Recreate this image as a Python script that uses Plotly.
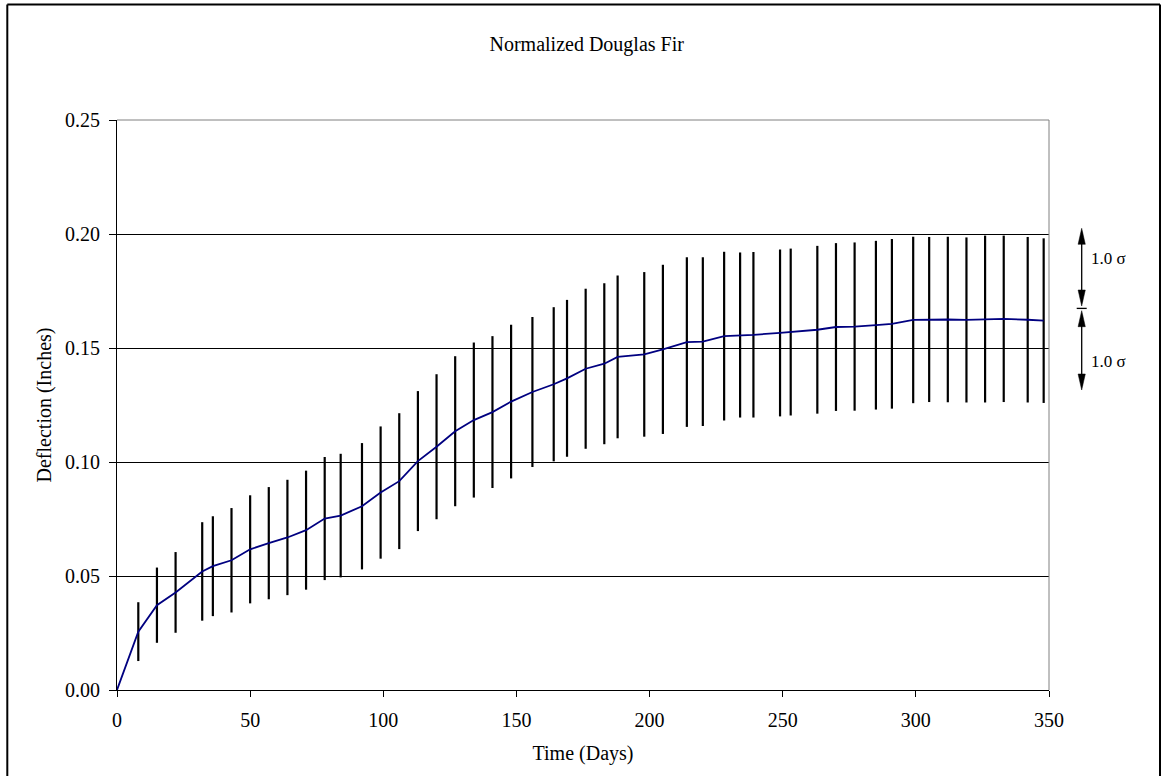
import plotly.graph_objects as go

# ---- data ----
start_day = 0
start_val = 0.0
days = [8, 15, 22, 32, 36, 43, 50, 57, 64, 71, 78, 84, 92, 99, 106, 113, 120, 127,
        134, 141, 148, 156, 164, 169, 176, 183, 188, 198, 205, 214, 220, 228, 234,
        239, 249, 253, 263, 270, 277, 285, 291, 299, 305, 312, 319, 326, 333, 342, 348]
mean_defl = [0.0256, 0.0372, 0.0428, 0.0520, 0.0543, 0.0569, 0.0617, 0.0644, 0.0669,
             0.0701, 0.0752, 0.0765, 0.0806, 0.0866, 0.0916, 0.1004, 0.1067, 0.1135,
             0.1184, 0.1219, 0.1265, 0.1307, 0.1341, 0.1367, 0.1409, 0.1431, 0.1461,
             0.1472, 0.1494, 0.1526, 0.1528, 0.1552, 0.1557, 0.1558, 0.1566, 0.1570,
             0.1580, 0.1592, 0.1594, 0.1600, 0.1606, 0.1623, 0.1625, 0.1625, 0.1623,
             0.1627, 0.1628, 0.1624, 0.1620]
sd_defl = [0.0129, 0.0165, 0.0177, 0.0216, 0.0219, 0.0229, 0.0237, 0.0246, 0.0253,
           0.0261, 0.0270, 0.0271, 0.0277, 0.0290, 0.0298, 0.0307, 0.0318, 0.0329,
           0.0340, 0.0333, 0.0337, 0.0329, 0.0338, 0.0344, 0.0351, 0.0353, 0.0357,
           0.0361, 0.0371, 0.0372, 0.0370, 0.0370, 0.0362, 0.0363, 0.0366, 0.0366,
           0.0368, 0.0368, 0.0369, 0.0370, 0.0372, 0.0365, 0.0362, 0.0363, 0.0362,
           0.0366, 0.0365, 0.0363, 0.0361]
x_ticks = [0, 50, 100, 150, 200, 250, 300, 350]
y_ticks = [0.00, 0.05, 0.10, 0.15, 0.20, 0.25]
sigma_label = "1.0 σ"

# ---- layout geometry ----
W, H = 1166, 776
ML, MR, MT, MB = 117, 117, 120, 86
PW, PH = W - ML - MR, H - MT - MB
FONT = "Liberation Serif, Times New Roman, serif"
FS = 20


def px(x):
    return (x - ML) / PW


def py(y):
    return (H - MB - y) / PH


fig = go.Figure()

# error bars (1 sigma)
fig.add_trace(go.Scatter(
    x=days, y=mean_defl, mode="markers",
    marker=dict(size=0.1, color="rgba(0,0,0,0)"),
    error_y=dict(type="data", array=sd_defl, symmetric=True,
                 color="black", thickness=2.2, width=0),
    showlegend=False, hoverinfo="skip"))

# mean line
fig.add_trace(go.Scatter(
    x=[start_day] + days, y=[start_val] + mean_defl, mode="lines",
    line=dict(color="#000080", width=1.8),
    showlegend=False))

shapes = []
# plot-area border (top and right, gray)
shapes.append(dict(type="line", xref="paper", yref="paper", x0=0, x1=1, y0=1, y1=1,
                   line=dict(color="#808080", width=1), layer="above"))
shapes.append(dict(type="line", xref="paper", yref="paper", x0=1, x1=1, y0=0, y1=1,
                   line=dict(color="#808080", width=1), layer="above"))
# outer chart border
for (x0, y0, x1, y1) in [(7.3, 4.5, 7.3, 790), (7.3, 4.5, 1160, 4.5), (1160, 4.5, 1160, 790)]:
    shapes.append(dict(type="line", xref="paper", yref="paper",
                       x0=px(x0), y0=py(y0), x1=px(x1), y1=py(y1),
                       line=dict(color="black", width=2), layer="above"))

# sigma arrows on the right
AX = 1081.7
HL, HW = 16, 3.6


def arrow_head(x, y, up=True):
    d = HL if up else -HL
    return dict(type="path", xref="paper", yref="paper",
                path=f"M {px(x)},{py(y)} L {px(x - HW)},{py(y + d)} L {px(x + HW)},{py(y + d)} Z",
                fillcolor="black", line=dict(color="black", width=0.5), layer="above")


for (top, bot) in [(228.3, 306.0), (310.7, 390.0)]:
    shapes.append(dict(type="line", xref="paper", yref="paper",
                       x0=px(AX), x1=px(AX), y0=py(top + 4), y1=py(bot - 4),
                       line=dict(color="black", width=1.3), layer="above"))
    shapes.append(arrow_head(AX, top, up=True))
    shapes.append(arrow_head(AX, bot, up=False))
shapes.append(dict(type="line", xref="paper", yref="paper",
                   x0=px(AX - 5), x1=px(AX + 5), y0=py(308.4), y1=py(308.4),
                   line=dict(color="black", width=1.3), layer="above"))

annotations = []
for yy in [258.0, 361.7]:
    annotations.append(dict(xref="paper", yref="paper", x=px(1089), y=py(yy),
                            xanchor="left", yanchor="middle", showarrow=False,
                            text=sigma_label, font=dict(family=FONT, size=17, color="black")))

fig.update_layout(
    width=W, height=H,
    margin=dict(l=ML, r=MR, t=MT, b=MB, autoexpand=False),
    paper_bgcolor="white", plot_bgcolor="white",
    font=dict(family=FONT, size=FS, color="black"),
    title=dict(text="Normalized Douglas Fir", x=586.7 / W, xanchor="center",
               y=1 - 44 / H, yanchor="middle", yref="container",
               font=dict(family=FONT, size=FS, color="black")),
    xaxis=dict(range=[0, 350], tickmode="array", tickvals=x_ticks,
               ticks="outside", ticklen=6, tickcolor="black", tickwidth=1,
               ticklabelstandoff=6,
               showline=True, linecolor="black", linewidth=1, mirror=False,
               showgrid=False, zeroline=False,
               title=dict(text="Time (Days)", standoff=15,
                          font=dict(family=FONT, size=FS)),
               tickfont=dict(family=FONT, size=FS)),
    yaxis=dict(range=[0, 0.25], tickmode="array", tickvals=y_ticks, tickformat=".2f",
               ticks="outside", ticklen=7, tickcolor="black", tickwidth=1,
               ticklabelstandoff=5,
               showline=True, linecolor="black", linewidth=1, mirror=False,
               showgrid=True, gridcolor="black", gridwidth=1, zeroline=False,
               title=dict(text="Deflection (Inches)", standoff=8,
                          font=dict(family=FONT, size=FS)),
               tickfont=dict(family=FONT, size=FS)),
    shapes=shapes,
    annotations=annotations,
    showlegend=False,
)

fig.write_html("out.html")
